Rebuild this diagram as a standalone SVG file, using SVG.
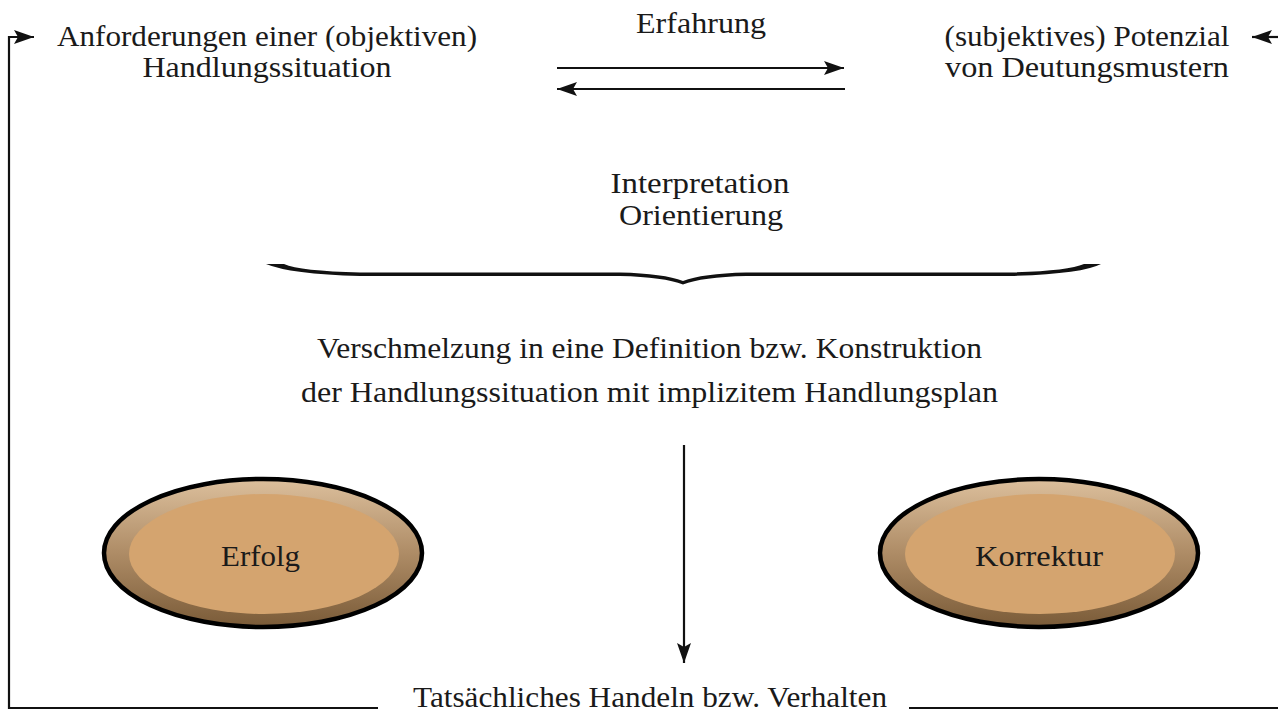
<svg xmlns="http://www.w3.org/2000/svg" width="1278" height="713" viewBox="0 0 1278 713">
  <defs>
    <style>
      .t { font-family: "Liberation Serif", "DejaVu Serif", serif; font-size: 30px; fill: #1a1a1a; text-anchor: middle; }
      .ln { stroke: #111; stroke-width: 2.2; fill: none; }
    </style>
    <marker id="ahL" viewBox="0 0 20 14" refX="20" refY="7" markerWidth="20" markerHeight="14" markerUnits="userSpaceOnUse" orient="auto">
      <path d="M0,0 L20,7 L0,14 L4,7 Z" fill="#111"/>
    </marker>
    <linearGradient id="rim" x1="0" y1="0" x2="0" y2="1">
      <stop offset="0" stop-color="#dcbf9c"/>
      <stop offset="0.5" stop-color="#ae8c66"/>
      <stop offset="1" stop-color="#7a5b38"/>
    </linearGradient>
  </defs>

  <!-- feedback loop and flow connectors -->
  <g id="connectors">
    <polyline class="ln" points="378,708 9,708 9,37 34,37" marker-end="url(#ahL)"/>
    <polyline class="ln" points="909,708 1278,708"/>
    <line class="ln" x1="1278" y1="37" x2="1252" y2="37" marker-end="url(#ahL)"/>
    <line class="ln" x1="557" y1="68" x2="844" y2="68" marker-end="url(#ahL)"/>
    <line class="ln" x1="845" y1="89" x2="557" y2="89" marker-end="url(#ahL)"/>
    <line class="ln" x1="684" y1="445" x2="684" y2="663" marker-end="url(#ahL)"/>
  </g>

  <!-- curly brace merging both sides -->
  <g id="brace">
    <path d="M266,264 L284,264 Q300,271 360,272.5 L620,272.5 Q664,273.5 683,281 Q702,273.5 746,272.5 L1010,272.5 Q1068,271 1084,264 L1101,264 Q1082,274 1010,276 L746,276 Q702,277 683,284.5 Q664,277 620,276 L360,276 Q290,274 266,264 Z" fill="#111"/>
  </g>

  <g id="anforderungen">
    <text class="t" x="267" y="46" textLength="420" lengthAdjust="spacingAndGlyphs">Anforderungen einer (objektiven)</text>
    <text class="t" x="267" y="77" textLength="249" lengthAdjust="spacingAndGlyphs">Handlungssituation</text>
  </g>
  <g id="erfahrung">
    <text class="t" x="701" y="33" textLength="130" lengthAdjust="spacingAndGlyphs">Erfahrung</text>
  </g>
  <g id="potenzial">
    <text class="t" x="1087" y="46" textLength="285" lengthAdjust="spacingAndGlyphs">(subjektives) Potenzial</text>
    <text class="t" x="1087" y="77" textLength="284" lengthAdjust="spacingAndGlyphs">von Deutungsmustern</text>
  </g>
  <g id="interpretation">
    <text class="t" x="700" y="193" textLength="179" lengthAdjust="spacingAndGlyphs">Interpretation</text>
    <text class="t" x="701" y="225" textLength="164" lengthAdjust="spacingAndGlyphs">Orientierung</text>
  </g>
  <g id="verschmelzung">
    <text class="t" x="649.5" y="358" textLength="665" lengthAdjust="spacingAndGlyphs">Verschmelzung in eine Definition bzw. Konstruktion</text>
    <text class="t" x="649.5" y="402" textLength="697" lengthAdjust="spacingAndGlyphs">der Handlungssituation mit implizitem Handlungsplan</text>
  </g>

  <g id="erfolg">
    <ellipse cx="263" cy="553" rx="159" ry="74" fill="url(#rim)" stroke="#000" stroke-width="4.5"/>
    <ellipse cx="264" cy="554" rx="135" ry="60" fill="#d4a46f"/>
    <text class="t" x="260.5" y="566" textLength="79" lengthAdjust="spacingAndGlyphs">Erfolg</text>
  </g>
  <g id="korrektur">
    <ellipse cx="1039" cy="553" rx="159" ry="74" fill="url(#rim)" stroke="#000" stroke-width="4.5"/>
    <ellipse cx="1040" cy="554" rx="135" ry="60" fill="#d4a46f"/>
    <text class="t" x="1039" y="566" textLength="128" lengthAdjust="spacingAndGlyphs">Korrektur</text>
  </g>

  <g id="handeln">
    <text class="t" x="650" y="707" textLength="474" lengthAdjust="spacingAndGlyphs">Tatsächliches Handeln bzw. Verhalten</text>
  </g>
</svg>
